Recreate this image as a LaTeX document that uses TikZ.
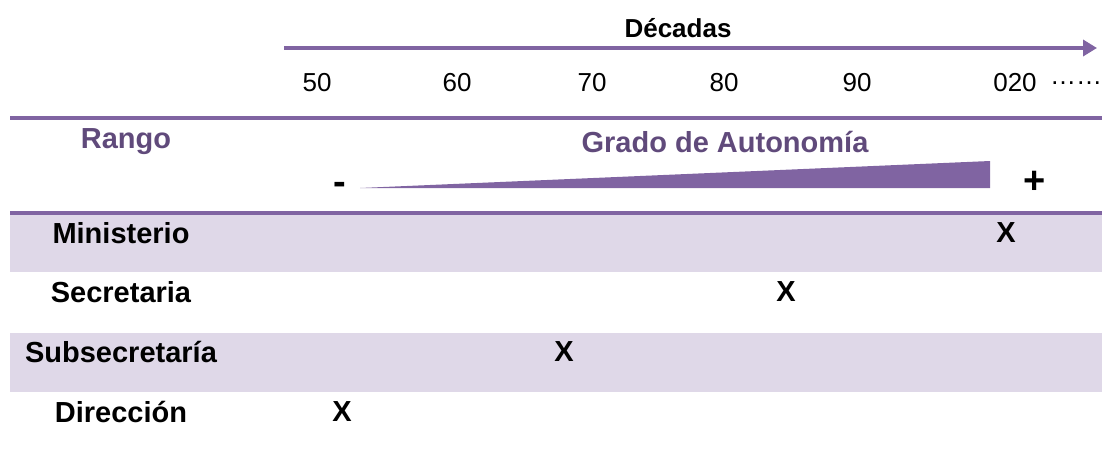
\documentclass[tikz,border=0pt]{standalone}
\usepackage{fontspec}
\setmainfont{Liberation Sans}
\usetikzlibrary{arrows.meta, positioning}

\definecolor{lila}{HTML}{8064A2}
\definecolor{lilaosc}{HTML}{604A7B}
\definecolor{lilaclaro}{HTML}{DFD8E8}

\tikzset{
  rango/.style={font=\fontsize{14.5}{17}\selectfont\bfseries, anchor=center},
  marca/.style={font=\fontsize{14.5}{17}\selectfont\bfseries},
  signo/.style={font=\fontsize{19}{22}\selectfont\bfseries},
  decada/.style={font=\fontsize{13}{15}\selectfont},
  titulo/.style={font=\fontsize{14.5}{17}\selectfont\bfseries, text=lilaosc},
  regla/.style={draw=lila, line width=1.8pt}
}

\begin{document}
\begin{tikzpicture}[x=0.5pt, y=-0.5pt]
    \useasboundingbox (0,0) rectangle (1102,450);

    % Bands
    \fill[lilaclaro] (10,215) rectangle (1102,272);
    \fill[lilaclaro] (10,333) rectangle (1102,392);

    % Decades axis
    \coordinate (ejeA) at (284,48);
    \coordinate (ejeB) at (1097,48);
    \draw[regla, -{Triangle[length=7pt, width=8pt]}] (ejeA) -- (ejeB);
    \node[font=\fontsize{13}{15}\selectfont\bfseries] (decadas) at (678,28) {Décadas};

    \node[decada] (d50) at (317,83) {50};
    \node[decada] (d60) at (457,83) {60};
    \node[decada] (d70) at (592,83) {70};
    \node[decada] (d80) at (724,83) {80};
    \node[decada] (d90) at (857,83) {90};
    \node[decada] (d20) at (1015,83) {020};
    \node[decada] (dmas) at (1076,83) {……};

    % Separators
    \coordinate (s1a) at (10,118);
    \coordinate (s1b) at (1102,118);
    \coordinate (s2a) at (10,213);
    \coordinate (s2b) at (1102,213);
    \draw[regla] (s1a) -- (s1b);
    \draw[regla] (s2a) -- (s2b);

    % Headings
    \node[titulo] (rango) at (126,142) {Rango};
    \node[titulo] (grado) at (725,142) {Grado de Autonomía};

    % Autonomy wedge
    \fill[lila] (360,188) -- (990,161) -- (990,188) -- cycle;
    \node[signo] (menos) at (340,188) {-};
    \node[signo] (mas) at (1035,182) {+};

    % Ranks
    \node[rango] (min) at (121,233) {Ministerio};
    \node[rango] (sec) at (121,292) {Secretaria};
    \node[rango] (subsec) at (121,352) {Subsecretaría};
    \node[rango] (dir) at (121,412) {Dirección};

    % Marks
    \node[marca] (xmin) at (1006,233) {X};
    \node[marca] (xsec) at (786,292) {X};
    \node[marca] (xsubsec) at (564,352) {X};
    \node[marca] (xdir) at (342,412) {X};
\end{tikzpicture}
\end{document}
